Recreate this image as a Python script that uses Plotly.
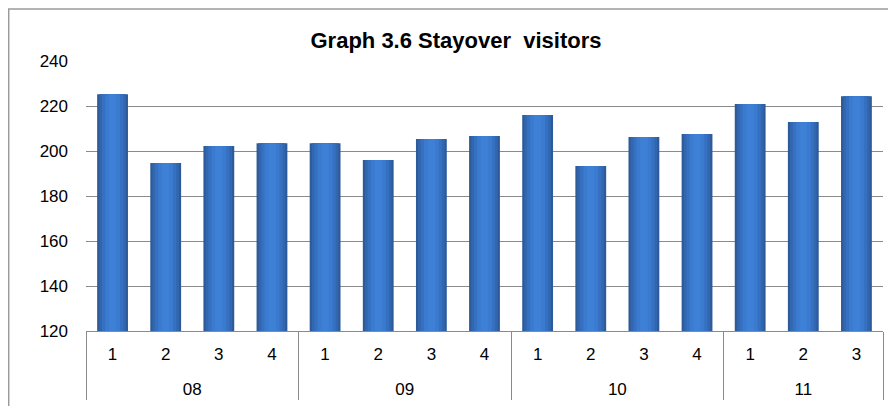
import plotly.graph_objects as go

years = ["08", "08", "08", "08", "09", "09", "09", "09",
         "10", "10", "10", "10", "11", "11", "11"]
quarters = ["1", "2", "3", "4", "1", "2", "3", "4",
            "1", "2", "3", "4", "1", "2", "3"]
visitors = [225.2, 194.7, 202.2, 203.4, 203.4, 196.0, 205.3, 206.7,
            216.0, 193.3, 206.2, 207.6, 220.9, 212.9, 224.3]

grey = "#8a8a8a"
font = "Liberation Sans, Arial, sans-serif"
heights = [v - 120 for v in visitors]

# extra blank line under the quarter label pushes the year row down
quarter_labels = [q + "<br> " for q in quarters]

# stacked layers of narrowing, lighter bars fake the cylinder shading
layers = [
    (0.58, "#2D5B9A"),
    (0.50, "#3266AE"),
    (0.40, "#3670C0"),
    (0.28, "#3A7ACF"),
    (0.14, "#3E80D6"),
]

bars = []
for w, c in layers:
    bars.append(go.Bar(
        x = [years, quarter_labels],
        y = heights,
        base = 120,
        width = w,
        marker = dict(color = c, line = dict(width = 0)),
        hoverinfo = "skip",
    ))

fig = go.Figure(data = bars)

# page body adds an 8px offset, margins below account for it
fig.update_layout(
    width = 896,
    height = 406,
    margin = dict(l = 78, r = 21, t = 53, b = 83),
    paper_bgcolor = "white",
    plot_bgcolor = "white",
    showlegend = False,
    barmode = "overlay",
    font = dict(family = font, size = 17, color = "black"),
    title = dict(
        text = "<b>Graph 3.6 Stayover  visitors</b>",
        x = 0.5,
        xanchor = "center",
        y = 0.92,
        yanchor = "middle",
        font = dict(family = font, size = 22, color = "black"),
    ),
    xaxis = dict(
        type = "multicategory",
        automargin = False,
        showline = True,
        linecolor = grey,
        linewidth = 1,
        showgrid = False,
        dividercolor = grey,
        dividerwidth = 1,
        showdividers = True,
        ticklabelstandoff = 8,
        tickfont = dict(size = 17),
    ),
    yaxis = dict(
        automargin = False,
        range = [120, 240],
        tickvals = [120, 140, 160, 180, 200, 220, 240],
        showgrid = True,
        gridcolor = grey,
        gridwidth = 1,
        showline = False,
        zeroline = False,
        ticks = "",
        ticklabelstandoff = 17,
        tickfont = dict(size = 17),
    ),
    # chart frame along the top and left edges of the figure
    shapes = [
        dict(
            type = "rect",
            xref = "paper",
            yref = "paper",
            x0 = -0.097,
            x1 = 1.2,
            y0 = -0.6,
            y1 = 1.193,
            line = dict(color = "#9a9a9a", width = 1.5),
            layer = "below",
        )
    ],
)

fig.write_html("out.html")
